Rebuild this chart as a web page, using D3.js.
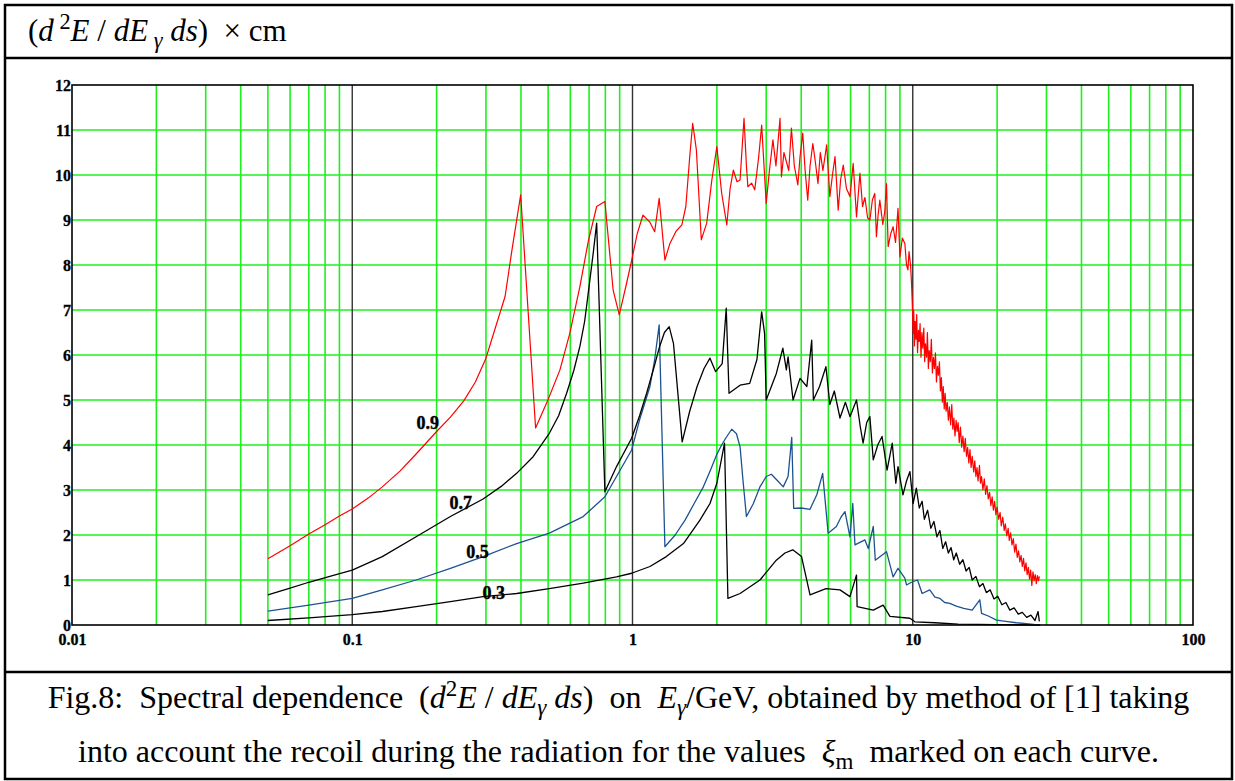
<!DOCTYPE html>
<html>
<head>
<meta charset="utf-8">
<script src="https://cdn.jsdelivr.net/npm/d3@7"></script>
<style>
  html, body { margin: 0; padding: 0; background: #fff; }
  svg { display: block; }
  text { white-space: pre; }
</style>
</head>
<body>
<svg id="chart" width="1235" height="781"></svg>
<script>
// ---------- DATA ----------
const xTickValues = [0.01, 0.1, 1, 10, 100];
const xTickLabels = ["0.01", "0.1", "1", "10", "100"];
const yTickValues = [0, 1, 2, 3, 4, 5, 6, 7, 8, 9, 10, 11, 12];
const yTickLabels = ["0", "1", "2", "3", "4", "5", "6", "7", "8", "9", "10", "11", "12"];
const decades = [0.01, 0.1, 1, 10];
const minorMultipliers = [2, 3, 4, 5, 6, 7, 8, 9];
const majorXLines = [0.1, 1, 10];
const hGridValues = [1, 2, 3, 4, 5, 6, 7, 8, 9, 10, 11];

// xi_m = 0.9 (red)
const series09 = [
  [0.05,1.47],[0.06,1.76],[0.07,2.02],[0.08,2.23],[0.09,2.42],[0.1,2.58],[0.114,2.82],
  [0.128,3.07],[0.148,3.42],[0.169,3.8],[0.2,4.3],[0.224,4.62],[0.25,4.98],[0.275,5.4],
  [0.3,5.93],[0.318,6.44],[0.351,7.3],[0.373,8.41],[0.399,9.56],[0.451,4.38],
  [0.499,5.0],[0.551,5.67],[0.598,6.49],[0.649,7.52],[0.695,8.52],[0.745,9.3],
  [0.797,9.41],[0.853,7.44],[0.897,6.89],[0.945,7.5],[0.993,8.1],[1.04,8.7],[1.09,9.11],
  [1.154,8.95],[1.20,8.74],[1.245,9.48],[1.305,8.11],[1.36,8.48],[1.43,8.75],[1.50,8.89],
  [1.55,9.3],[1.60,10.4],[1.64,11.15],[1.69,10.56],[1.76,8.56],[1.84,8.93],[1.92,9.9],
  [2.0,10.63],[2.08,9.6],[2.17,8.89],[2.23,9.7],[2.29,10.11],[2.36,9.85],[2.42,9.89],
  [2.50,11.26],[2.55,10.2],[2.58,9.74],[2.66,9.82],[2.73,9.67],[2.82,10.4],[2.89,11.11],
  [2.94,10.3],[3.0,9.37],[3.08,10.1],[3.17,10.78],[3.25,10.2],[3.36,11.26],[3.40,9.96],
  [3.47,10.5],[3.54,10.3],[3.61,10.1],[3.69,11.04],[3.78,10.2],[3.89,9.78],[3.96,10.4],
  [4.05,10.93],[4.13,10.1],[4.22,9.44],[4.30,10.2],[4.40,10.7],[4.49,10.3],[4.59,9.81],
  [4.68,10.5],[4.78,10.1],[4.93,10.67],[5.06,9.52],[5.17,10.0],[5.28,10.41],[5.42,9.22],
  [5.53,9.9],[5.65,10.22],[5.80,9.7],[5.97,9.52],[6.13,10.26],[6.30,9.07],[6.48,10.04],
  [6.62,9.3],[6.75,9.5],[6.90,9.05],[7.03,9.0],[7.18,9.45],[7.32,9.59],[7.42,8.63],
  [7.52,9.1],[7.63,9.44],[7.82,8.9],[7.95,9.2],[8.06,9.81],[8.17,8.41],[8.35,8.7],
  [8.51,8.85],[8.68,8.5],[8.86,9.26],[9.0,8.18],[9.18,8.6],[9.37,8.48],[9.50,8.0],
  [9.61,7.89],[9.70,8.3],[9.82,8.0],[9.90,7.6],[9.96,7.15],
  [10.03,6.48],[10.08,7.0],[10.14,6.2],[10.2,6.75],[10.27,6.35],[10.33,6.9],[10.4,6.05],
  [10.48,6.55],[10.55,6.3],[10.62,6.7],[10.7,5.95],[10.78,6.5],[10.86,6.15],[10.95,6.6],
  [11.03,5.85],[11.1,6.25],[11.2,5.95],[11.28,6.5],[11.37,5.7],[11.45,6.1],[11.55,5.85],
  [11.65,6.35],[11.75,5.6],[11.85,5.95],[11.95,5.7],[12.05,6.05],[12.15,5.4],[12.25,5.75],
  [12.35,5.55],[12.45,5.85],[12.55,5.2],[12.65,5.5],[12.75,4.95],[12.85,5.3],[12.95,4.8],
  [13.05,5.15],[13.15,4.75],[13.28,4.95],[13.4,4.55],[13.52,4.85],[13.65,4.45],[13.78,4.9],
  [13.9,4.35],[14.02,4.6],[14.15,4.2],[14.28,4.55],[14.4,4.3],[14.52,4.5],[14.65,4.05],
  [14.8,4.4],[14.95,3.95],[15.1,4.2],[15.25,3.85],[15.4,4.15],[15.55,3.75],[15.7,3.95],
  [15.85,3.6],[16.0,3.9],[16.15,3.5],[16.3,3.75],[16.5,3.4],[16.65,3.65],[16.8,3.3],
  [16.95,3.5],[17.1,3.2],[17.3,3.55],[17.45,3.15],[17.6,3.3],[17.8,3.0],[18.0,3.25],
  [18.2,2.9],[18.4,3.1],[18.6,2.8],[18.8,2.95],[19.0,2.65],[19.2,2.85],[19.4,2.55],
  [19.6,2.75],[19.8,2.45],[20.0,2.62],[20.25,2.35],[20.5,2.5],[20.7,2.2],[20.95,2.4],
  [21.2,2.1],[21.4,2.25],[21.65,1.98],[21.9,2.15],[22.1,1.88],[22.35,2.05],[22.6,1.78],
  [22.85,1.92],[23.1,1.62],[23.35,1.8],[23.6,1.5],[23.85,1.65],[24.1,1.4],[24.35,1.55],
  [24.6,1.3],[24.85,1.48],[25.1,1.2],[25.35,1.38],[25.6,1.12],[25.85,1.28],[26.1,1.02],
  [26.35,1.22],[26.6,0.88],[26.85,1.18],[27.1,0.98],[27.35,1.12],[27.6,0.92],[27.85,1.1],
  [28.1,0.98],[28.3,1.08]
];

// xi_m = 0.7 (black)
const series07 = [
  [0.05,0.67],[0.06,0.82],[0.07,0.95],[0.085,1.1],[0.1,1.22],[0.128,1.52],[0.169,1.96],
  [0.224,2.41],[0.293,2.8],[0.34,3.08],[0.386,3.37],[0.442,3.74],[0.505,4.26],
  [0.545,4.65],[0.582,5.15],[0.617,5.65],[0.649,6.19],[0.675,6.75],[0.695,7.37],
  [0.724,8.26],[0.745,8.93],[0.797,2.96],[0.877,3.52],[0.993,4.15],[1.06,4.65],
  [1.123,5.15],[1.19,5.7],[1.25,6.19],[1.30,6.5],[1.352,6.63],[1.40,6.26],[1.504,4.07],
  [1.6,4.75],[1.7,5.3],[1.8,5.7],[1.89,5.93],[1.98,5.63],[2.09,5.81],[2.16,7.04],
  [2.21,5.15],[2.42,5.33],[2.62,5.37],[2.78,5.9],[2.89,6.96],[2.96,6.48],[3.0,5.0],
  [3.26,5.59],[3.44,6.15],[3.54,5.67],[3.59,5.96],[3.74,5.0],[3.96,5.48],[4.19,5.3],
  [4.36,6.33],[4.42,5.0],[4.65,5.3],[4.9,5.74],[5.06,4.9],[5.25,5.2],[5.5,4.6],
  [5.75,4.95],[5.97,4.63],[6.3,5.0],[6.5,4.4],[6.65,4.04],[6.85,4.5],[7.03,4.63],
  [7.23,3.67],[7.5,4.0],[7.77,4.19],[8.1,3.44],[8.45,4.04],[8.7,3.15],[8.86,3.52],
  [9.23,2.89],[9.5,3.2],[9.77,3.41],[10.03,2.7],[10.3,3.04],[10.55,2.6],[10.8,2.75],
  [11.0,2.35],[11.3,2.55],[11.6,2.15],[11.9,2.3],[12.2,1.96],[12.5,2.1],[12.8,1.7],
  [13.1,1.85],[13.4,1.6],[13.7,1.72],[14.0,1.45],[14.3,1.6],[14.7,1.35],[15.1,1.45],
  [15.5,1.2],[15.9,1.28],[16.3,1.0],[16.8,1.08],[17.3,0.85],[17.8,0.92],[18.3,0.72],
  [18.9,0.78],[19.5,0.58],[20.1,0.64],[20.8,0.45],[21.5,0.5],[22.2,0.33],[23.0,0.38],
  [23.8,0.24],[24.6,0.28],[25.5,0.17],[26.4,0.22],[27.3,0.1],[28.0,0.3],[28.3,0.08]
];

// xi_m = 0.5 (blue)
const series05 = [
  [0.05,0.31],[0.07,0.44],[0.1,0.59],[0.128,0.78],[0.169,1.0],[0.224,1.26],[0.293,1.52],
  [0.386,1.81],[0.505,2.04],[0.667,2.41],[0.797,2.85],[0.877,3.3],[0.993,3.89],
  [1.06,4.56],[1.154,5.3],[1.20,5.9],[1.245,6.67],[1.305,1.74],[1.42,2.0],[1.54,2.33],
  [1.66,2.7],[1.79,3.07],[1.90,3.45],[1.995,3.78],[2.08,4.0],[2.15,4.15],[2.26,4.35],
  [2.35,4.25],[2.42,3.96],[2.48,3.2],[2.55,2.41],[2.70,2.7],[2.85,3.07],[3.0,3.3],
  [3.13,3.35],[3.3,3.2],[3.45,3.07],[3.59,3.3],[3.70,4.17],[3.76,2.59],[4.0,2.6],
  [4.30,2.57],[4.55,2.9],[4.77,3.37],[4.99,2.04],[5.34,2.19],[5.55,2.4],[5.73,2.52],
  [5.97,1.96],[6.11,2.7],[6.22,1.78],[6.75,1.89],[6.94,1.7],[7.23,2.19],[7.35,1.44],
  [8.06,1.63],[8.51,1.07],[8.86,1.26],[9.37,1.04],[9.5,0.89],[9.9,0.95],[10.4,1.0],
  [10.8,0.7],[11.5,0.78],[12.0,0.62],[12.5,0.59],[13.0,0.5],[13.56,0.48],[14.3,0.42],
  [15.2,0.37],[16.3,0.33],[17.35,0.56],[17.6,0.26],[18.6,0.2],[19.9,0.11],[21.5,0.08],
  [23.4,0.05],[25.5,0.03],[27.9,0.0]
];

// xi_m = 0.3 (black)
const series03 = [
  [0.05,0.1],[0.07,0.16],[0.1,0.23],[0.128,0.3],[0.169,0.41],[0.224,0.52],[0.293,0.63],
  [0.386,0.7],[0.505,0.81],[0.667,0.93],[0.877,1.07],[0.993,1.15],[1.154,1.3],
  [1.32,1.52],[1.52,1.81],[1.74,2.33],[1.89,2.7],[2.0,3.15],[2.13,4.04],[2.19,0.59],
  [2.42,0.7],[2.85,1.0],[3.26,1.44],[3.5,1.6],[3.73,1.67],[4.01,1.52],[4.30,0.67],
  [4.9,0.81],[5.5,0.78],[5.97,0.63],[6.30,1.11],[6.33,0.41],[7.23,0.33],[7.84,0.44],
  [8.29,0.19],[9.77,0.15],[10.17,0.07],[12.0,0.05],[14.5,0.02],[20.0,0.01],[28.5,0.0]
];

const curveLabels = [
  { text: "0.9", E: 0.186, v: 4.5 },
  { text: "0.7", E: 0.244, v: 2.71 },
  { text: "0.5", E: 0.28, v: 1.62 },
  { text: "0.3", E: 0.32, v: 0.71 }
];

// ---------- DRAWING ----------
const svg = d3.select("#chart");
const box = { left: 5, right: 1232, top: 5, bottom: 779, headerLine: 58, captionLine: 672 };
const plot = { left: 72, right: 1193, top: 85, bottom: 625 };

const x = d3.scaleLog().domain([0.01, 100]).range([plot.left, plot.right]);
const y = d3.scaleLinear().domain([0, 12]).range([plot.bottom, plot.top]);

const green = "#1ef01e";
const g = svg.append("g");

const minorX = [];
decades.forEach(d => minorMultipliers.forEach(m => minorX.push(d * m)));
g.selectAll("line.vminor").data(minorX).join("line")
  .attr("x1", d => x(d)).attr("x2", d => x(d))
  .attr("y1", plot.top).attr("y2", plot.bottom)
  .attr("stroke", green).attr("stroke-width", 1.6);

g.selectAll("line.hgrid").data(hGridValues).join("line")
  .attr("x1", plot.left).attr("x2", plot.right)
  .attr("y1", d => y(d)).attr("y2", d => y(d))
  .attr("stroke", green).attr("stroke-width", 1.6);

g.selectAll("line.vmajor").data(majorXLines).join("line")
  .attr("x1", d => x(d)).attr("x2", d => x(d))
  .attr("y1", plot.top).attr("y2", plot.bottom)
  .attr("stroke", "#333").attr("stroke-width", 1.4);

const line = d3.line().x(d => x(d[0])).y(d => y(d[1]));
const curves = [
  { data: series03, color: "#000000", w: 1.3 },
  { data: series05, color: "#1d5291", w: 1.3 },
  { data: series07, color: "#000000", w: 1.3 },
  { data: series09, color: "#ff0000", w: 1.2 }
];
g.selectAll("path.curve").data(curves).join("path")
  .attr("d", d => line(d.data))
  .attr("fill", "none")
  .attr("stroke", d => d.color)
  .attr("stroke-width", d => d.w)
  .attr("stroke-linejoin", "round");

g.append("rect")
  .attr("x", plot.left).attr("y", plot.top)
  .attr("width", plot.right - plot.left).attr("height", plot.bottom - plot.top)
  .attr("fill", "none").attr("stroke", "#000").attr("stroke-width", 1.6);

const serif = "'Liberation Serif', 'Times New Roman', serif";
const xAxis = d3.axisBottom(x).tickValues(xTickValues)
  .tickFormat((d, i) => xTickLabels[i]).tickSize(0).tickPadding(9);
const xg = svg.append("g").attr("transform", `translate(0,${plot.bottom})`).call(xAxis);
xg.select(".domain").remove();
xg.selectAll("text").attr("font-family", serif).attr("font-weight", "bold")
  .attr("font-size", 16).attr("fill", "#000").attr("stroke", "#000").attr("stroke-width", 0.3);

const yAxis = d3.axisLeft(y).tickValues(yTickValues)
  .tickFormat((d, i) => yTickLabels[i]).tickSize(0).tickPadding(1);
const yg = svg.append("g").attr("transform", `translate(${plot.left},0)`).call(yAxis);
yg.select(".domain").remove();
yg.selectAll("text").attr("font-family", serif).attr("font-weight", "bold")
  .attr("font-size", 16).attr("fill", "#000").attr("stroke", "#000").attr("stroke-width", 0.3);

svg.selectAll("text.clabel").data(curveLabels).join("text")
  .attr("x", d => x(d.E)).attr("y", d => y(d.v))
  .attr("text-anchor", "middle").attr("dominant-baseline", "central")
  .attr("font-family", serif).attr("font-weight", "bold")
  .attr("font-size", 18).attr("fill", "#000").attr("stroke", "#000").attr("stroke-width", 0.4)
  .text(d => d.text);

svg.append("rect").attr("x", box.left).attr("y", box.top)
  .attr("width", box.right - box.left).attr("height", box.bottom - box.top)
  .attr("fill", "none").attr("stroke", "#000").attr("stroke-width", 2.5);
[box.headerLine, box.captionLine].forEach(yy => {
  svg.append("line").attr("x1", box.left).attr("x2", box.right)
    .attr("y1", yy).attr("y2", yy).attr("stroke", "#000").attr("stroke-width", 2.5);
});

// rich text: style "i" italic, "sup" superscript, "sub" subscript (combinable)
function rich(sel, parts, fs) {
  let pending = 0;
  parts.forEach(p => {
    const [t, st] = p;
    const s = st || "";
    const ts = sel.append("tspan").text(t);
    let shift = 0;
    if (s.includes("sup")) shift = -fs * 0.38;
    if (s.includes("sub")) shift = fs * 0.22;
    const dy = pending + shift;
    if (dy !== 0) ts.attr("dy", dy);
    pending = -shift;
    if (s.includes("i")) ts.attr("font-style", "italic");
    if (shift !== 0) ts.attr("font-size", fs * 0.72);
  });
}

const header = svg.append("text").attr("x", 28).attr("y", 41)
  .attr("font-family", serif).attr("font-size", 31).attr("fill", "#000");
rich(header, [["("], ["d", "i"], [" 2", "sup"], ["E", "i"], [" / "], ["dE", "i"], [" γ", "isub"],
  [" ds", "i"], [")"], ["  × cm"]], 31);

const cap1 = svg.append("text").attr("x", 618.5).attr("y", 708).attr("text-anchor", "middle")
  .attr("font-family", serif).attr("font-size", 32).attr("fill", "#000");
rich(cap1, [["Fig.8:  Spectral dependence  ("], ["d", "i"], ["2", "sup"], ["E", "i"], [" / "],
  ["dE", "i"], ["γ", "isub"], [" ds", "i"], [")  on  "], ["E", "i"], ["γ", "isub"],
  ["/GeV, obtained by method of [1] taking"]], 32);

const cap2 = svg.append("text").attr("x", 618.5).attr("y", 762).attr("text-anchor", "middle")
  .attr("font-family", serif).attr("font-size", 32).attr("fill", "#000");
rich(cap2, [["into account the recoil during the radiation for the values  "], ["ξ", "i"],
  ["m", "sub"], ["  marked on each curve."]], 32);
</script>
</body>
</html>
